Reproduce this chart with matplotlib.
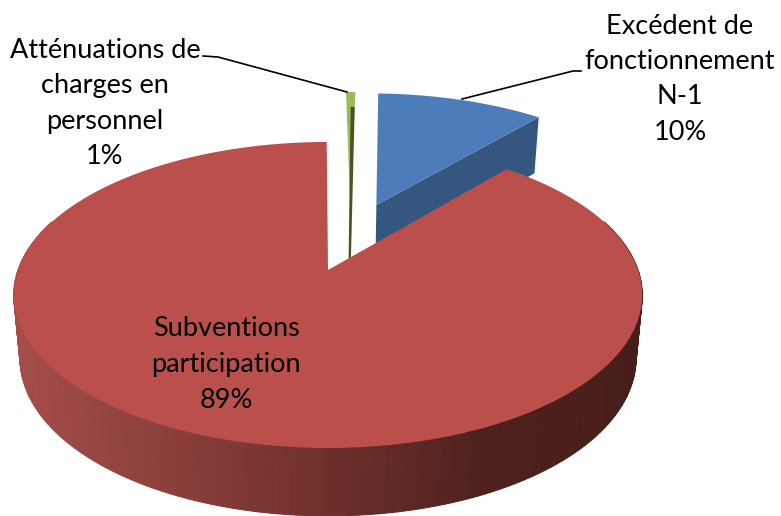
import numpy as np
import matplotlib
matplotlib.use("Agg")
import matplotlib.pyplot as plt
from matplotlib.colors import LinearSegmentedColormap
from matplotlib.patches import Polygon

# values (the wedge sizes, the printed labels are rounded)
categories = ["Subventions\nparticipation", "Atténuations de\ncharges en\npersonnel", "Excédent de\nfonctionnement\nN-1"]
shares = [88.7, 0.6, 10.7]
pct_labels = ["89%", "1%", "10%"]

# pie styling and projection
top_colors = ["#bb4f4c", "#9bbb59", "#4c7dba"]
side_colors = ["#6f302c", "#46561f", "#35577f"]
explode = [(0.0, 0.0), (0.077, 0.484), (0.168, 0.47)]
start_angle = 40.4
cx, cy = 328, 270
rx, ry, persp = 310, 148.9, 0.163


def project(u, v):
    s = 1 / (1 + persp * v)
    return cx + rx * u * s, cy - ry * v * s


def project_bottom(u, v):
    x, y = project(u, v)
    return cx + (x - cx) * 0.98, y + 62.6 - 5.4 * v


def disc_point(angle, off, r=1.0):
    a = np.radians(angle)
    return off[0] + r * np.sin(a), off[1] + r * np.cos(a)


fig = plt.figure(figsize=(7.81, 5.16), dpi=100)
ax = fig.add_axes([0, 0, 1, 1])
ax.set_xlim(0, 781)
ax.set_ylim(516, 0)
ax.axis("off")

plt.rcParams["font.family"] = ["Lato", "DejaVu Sans"]

edges = start_angle + np.cumsum([0] + [s * 3.6 for s in shares])
spans = list(zip(edges[:-1], edges[1:]))

# blue wedge: radial side at its clockwise end, then the top face
a0, a1 = spans[2]
off = explode[2]
outer = disc_point(a1, off)
side = [project(*off), project(*outer), project_bottom(*outer), project_bottom(*off)]
ax.add_patch(Polygon(side, closed=True, fc=side_colors[2], ec="none", zorder=1))
arc = [project(*disc_point(a, off)) for a in np.linspace(a0, a1, 40)]
ax.add_patch(Polygon([project(*off)] + arc, closed=True, fc=top_colors[2], ec="none", zorder=2))

# green sliver: top face with its dark side running down the middle
a0, a1 = spans[1]
off = explode[1]
arc = [project(*disc_point(a, off)) for a in np.linspace(a0, a1, 6)]
ax.add_patch(Polygon([project(*off)] + arc, closed=True, fc=top_colors[1], ec="none", zorder=2))
mid = disc_point((a0 + a1) / 2, off, 0.85)
right = disc_point(a1, off, 0.85)
dark = [project(*mid), project(*right),
        project_bottom(off[0] + 0.004, off[1]), project_bottom(off[0] - 0.004, off[1])]
ax.add_patch(Polygon(dark, closed=True, fc=side_colors[1], ec="none", zorder=3))

# red wedge: outer wall as thin strips with a left to right shading
wall_cmap = LinearSegmentedColormap.from_list("wall", ["#a44d49", "#8a3f3b", side_colors[0], "#4f211e", "#471d1a"])
off = explode[0]
angles = np.linspace(70, 290, 221)
x_left = project(-1, 0)[0]
x_right = project(1, 0)[0]
for a, b in zip(angles[:-1], angles[1:]):
    p, q = disc_point(a, off), disc_point(b, off)
    quad = [project(*p), project(*q), project_bottom(*q), project_bottom(*p)]
    t = (project(*p)[0] - x_left) / (x_right - x_left)
    c = wall_cmap(np.clip(t, 0, 1))
    ax.add_patch(Polygon(quad, closed=True, fc=c, ec=c, lw=0.8, zorder=4))

a0, a1 = spans[0]
arc = [project(*disc_point(a, off)) for a in np.linspace(a0, a1, 300)]
ax.add_patch(Polygon([project(*off)] + arc, closed=True, fc=top_colors[0], ec="none", zorder=5))

# leader lines
ax.plot([203, 218, 347], [56, 57, 92], color="black", lw=1.2, zorder=6)
ax.plot([462, 573, 581], [99, 71, 71], color="black", lw=1.2, zorder=6)

# labels
label_pos = [(226, 329), (105, 50), (680, 26)]
for cat, pct, (lx, ly) in zip(categories, pct_labels, label_pos):
    lines = cat.split("\n") + [pct]
    for i, line in enumerate(lines):
        ax.text(lx, ly + i * 35.5, line, ha="center", va="center", fontsize=19.5, color="black", zorder=7)

plt.savefig("out.png", dpi=100)
